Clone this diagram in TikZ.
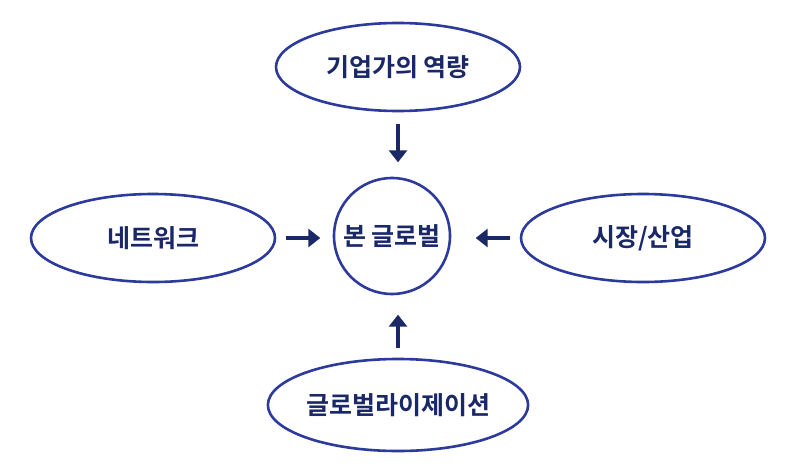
\documentclass[tikz,border=0pt]{standalone}
\usepackage{fontspec}
\newfontfamily\kr{Noto Sans CJK KR Bold}
\usetikzlibrary{shapes.geometric,arrows.meta}
\definecolor{eblue}{HTML}{2B3A9C}
\definecolor{navy}{HTML}{1B2868}
\tikzset{
  oval/.style={ellipse,draw=eblue,line width=2.6pt,minimum width=244pt,minimum height=88pt,inner sep=0pt,font=\kr\fontsize{25}{30}\selectfont,text=navy},
  hub/.style={circle,draw=eblue,line width=2.6pt,minimum size=116pt,inner sep=0pt,font=\kr\fontsize{25}{30}\selectfont,text=navy},
  arr/.style={navy,line width=4.5pt,-{Triangle[length=12pt,width=18pt]}}
}
\begin{document}
\begin{tikzpicture}[x=1pt,y=-1pt]
\useasboundingbox (0,0) rectangle (800,471);
\node[hub] (c) at (392,236) {본 글로벌};
\node[oval] (t) at (398,67) {기업가의 역량};
\node[oval] (l) at (153,238) {네트워크};
\node[oval] (r) at (643,238) {시장/산업};
\node[oval,minimum height=92pt] (b) at (398,405) {글로벌라이제이션};
\draw[arr] (t.south) ++(0,12) -- ++(0,38);
\draw[arr] (l.east) ++(10,0) -- ++(34,0);
\draw[arr] (r.west) ++(-10,0) -- ++(-34,0);
\draw[arr] (b.north) ++(0,-10) -- ++(0,-33);
\end{tikzpicture}
\end{document}
